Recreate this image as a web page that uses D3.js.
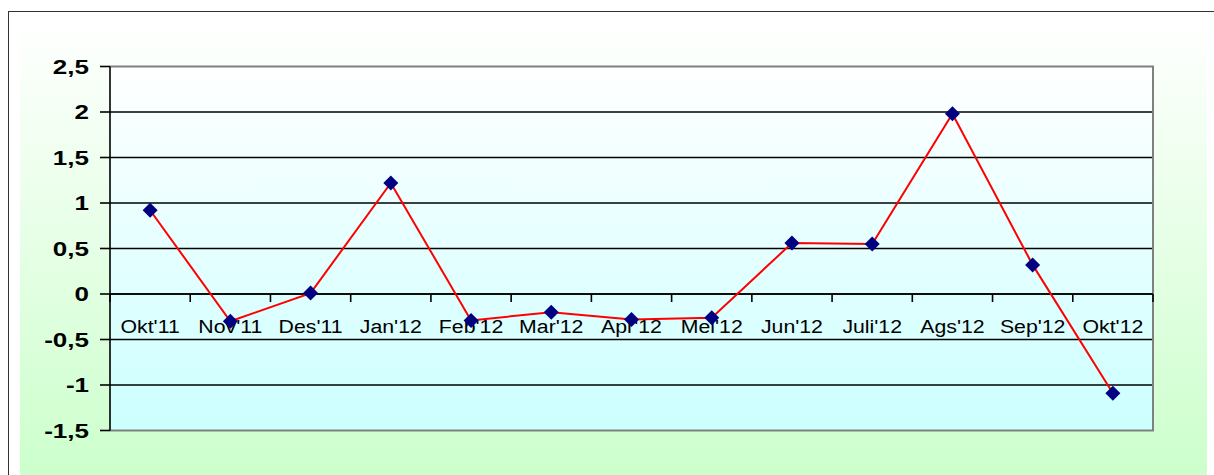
<!DOCTYPE html>
<html>
<head>
<meta charset="utf-8">
<script src="https://cdn.jsdelivr.net/npm/d3@7"></script>
<style>
  body { margin: 0; background: #fff; }
  svg { display: block; font-family: "Liberation Sans", Arial, sans-serif; }
</style>
</head>
<body>
<div id="chart"></div>
<script>
// 数据
const months = ["Okt'11", "Nov'11", "Des'11", "Jan'12", "Feb'12", "Mar'12", "Apr'12",
  "Mei'12", "Jun'12", "Juli'12", "Ags'12", "Sep'12", "Okt'12"];
const values = [0.92, -0.30, 0.01, 1.22, -0.29, -0.20, -0.28, -0.26, 0.56, 0.55, 1.98, 0.32, -1.09];
const yTicks = [-1.5, -1, -0.5, 0, 0.5, 1, 1.5, 2, 2.5];

const width = 1214, height = 475;
const plot = { left: 110, top: 66.5, right: 1153, bottom: 430.5 };

const svg = d3.select('#chart').append('svg')
  .attr('width', width)
  .attr('height', height);

const defs = svg.append('defs');
const outerGrad = defs.append('linearGradient')
  .attr('id', 'outerGrad').attr('x1', 0).attr('y1', 0).attr('x2', 0).attr('y2', 1);
outerGrad.append('stop').attr('offset', '0%').attr('stop-color', '#ffffff');
outerGrad.append('stop').attr('offset', '100%').attr('stop-color', '#ccffcc');

const plotGrad = defs.append('linearGradient')
  .attr('id', 'plotGrad').attr('x1', 0).attr('y1', 0).attr('x2', 0).attr('y2', 1);
plotGrad.append('stop').attr('offset', '0%').attr('stop-color', '#ffffff');
plotGrad.append('stop').attr('offset', '100%').attr('stop-color', '#ccffff');

// 外框
svg.append('rect')
  .attr('x', 8.5).attr('y', 11.5)
  .attr('width', width + 10).attr('height', height + 10)
  .attr('fill', '#fff')
  .attr('stroke', '#333').attr('stroke-width', 1);

svg.append('rect')
  .attr('x', 20).attr('y', 20)
  .attr('width', 1187).attr('height', height - 20)
  .attr('fill', 'url(#outerGrad)');

// 比例尺
const x = d3.scaleBand()
  .domain(months)
  .range([plot.left, plot.right])
  .padding(0);

const y = d3.scaleLinear()
  .domain([-1.5, 2.5])
  .range([plot.bottom, plot.top]);

// 绘图区背景
svg.append('rect')
  .attr('x', plot.left).attr('y', plot.top)
  .attr('width', plot.right - plot.left).attr('height', plot.bottom - plot.top)
  .attr('fill', 'url(#plotGrad)');

// 网格线
svg.append('g')
  .selectAll('line')
  .data(yTicks.filter(d => d > -1.5 && d < 2.5))
  .enter()
  .append('line')
  .attr('x1', plot.left).attr('x2', plot.right)
  .attr('y1', d => y(d)).attr('y2', d => y(d))
  .attr('stroke', '#000').attr('stroke-width', 1.6);

// 绘图区边框（上、右、下）
svg.append('path')
  .attr('d', `M${plot.left},${plot.top}H${plot.right}V${plot.bottom}H${plot.left}`)
  .attr('fill', 'none')
  .attr('stroke', '#808080').attr('stroke-width', 2);

// Y轴
const yAxis = svg.append('g');
yAxis.append('line')
  .attr('x1', plot.left).attr('x2', plot.left)
  .attr('y1', plot.top).attr('y2', plot.bottom)
  .attr('stroke', '#000').attr('stroke-width', 1.6);

yAxis.selectAll('.ytick')
  .data(yTicks)
  .enter()
  .append('line')
  .attr('x1', plot.left - 10).attr('x2', plot.left)
  .attr('y1', d => y(d)).attr('y2', d => y(d))
  .attr('stroke', '#000').attr('stroke-width', 1.6);

yAxis.selectAll('.ylabel')
  .data(yTicks)
  .enter()
  .append('text')
  .attr('transform', d => `translate(89,${y(d) + 7}) scale(1.3,1)`)
  .attr('text-anchor', 'end')
  .style('font-size', '20px')
  .style('font-weight', 'bold')
  .attr('fill', '#000')
  .text(d => String(d).replace('.', ','));

// X轴（在0处）
const xAxis = svg.append('g');
xAxis.append('line')
  .attr('x1', plot.left).attr('x2', plot.right)
  .attr('y1', y(0)).attr('y2', y(0))
  .attr('stroke', '#000').attr('stroke-width', 1.6);

const boundaries = months.map(m => x(m)).concat([plot.right]);
xAxis.selectAll('.xtick')
  .data(boundaries)
  .enter()
  .append('line')
  .attr('x1', d => d).attr('x2', d => d)
  .attr('y1', y(0)).attr('y2', y(0) + 8)
  .attr('stroke', '#000').attr('stroke-width', 1.6);

xAxis.selectAll('.xlabel')
  .data(months)
  .enter()
  .append('text')
  .attr('transform', d => `translate(${x(d) + x.bandwidth() / 2},${y(0) + 39}) scale(1.12,1)`)
  .attr('text-anchor', 'middle')
  .style('font-size', '19px')
  .attr('fill', '#000')
  .text(d => d);

// 折线
const line = d3.line()
  .x((d, i) => x(months[i]) + x.bandwidth() / 2)
  .y(d => y(d));

svg.append('path')
  .datum(values)
  .attr('d', line)
  .attr('fill', 'none')
  .attr('stroke', '#ff0000')
  .attr('stroke-width', 2);

// 菱形标记
svg.append('g')
  .selectAll('path')
  .data(values)
  .enter()
  .append('path')
  .attr('transform', (d, i) => `translate(${x(months[i]) + x.bandwidth() / 2},${y(d)})`)
  .attr('d', 'M0,-7.5L7.5,0L0,7.5L-7.5,0Z')
  .attr('fill', '#000080');
</script>
</body>
</html>
